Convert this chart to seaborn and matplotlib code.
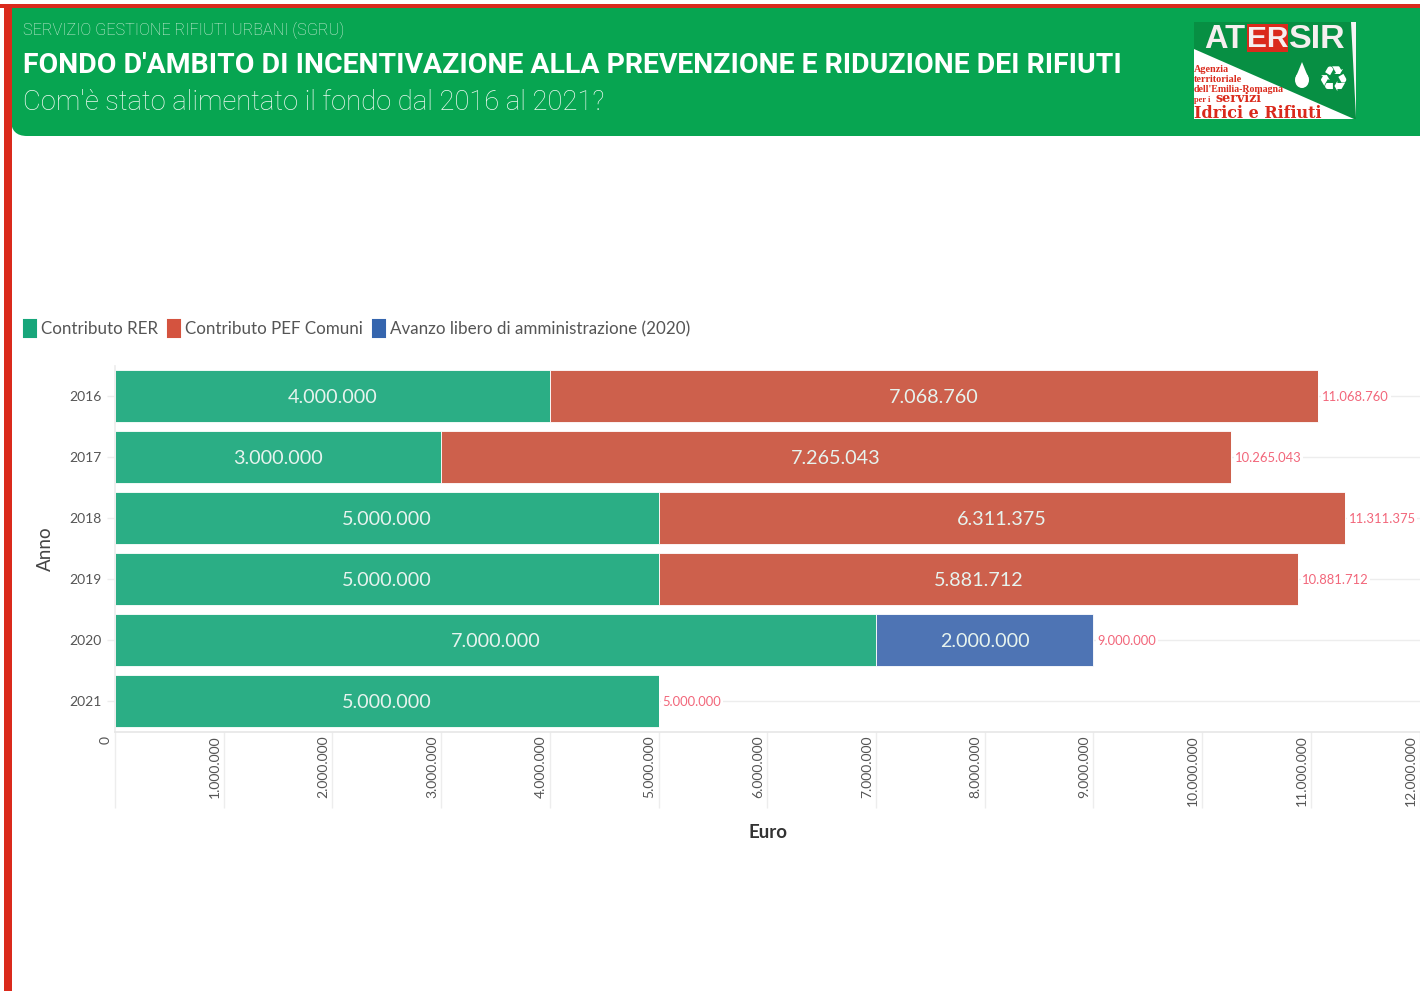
import matplotlib
matplotlib.use("Agg")
import matplotlib.pyplot as plt
import seaborn as sns
import numpy as np
from matplotlib.patches import Rectangle, FancyBboxPatch, Polygon, Ellipse, Patch
from matplotlib.transforms import ScaledTranslation

years = ["2016", "2017", "2018", "2019", "2020", "2021"]
rer = [4000000, 3000000, 5000000, 5000000, 7000000, 5000000]
pef = [7068760, 7265043, 6311375, 5881712, 0, 0]
avanzo = [0, 0, 0, 0, 2000000, 0]
series_names = ["Contributo RER", "Contributo PEF Comuni", "Avanzo libero di amministrazione (2020)"]
bar_colors = ["#2BAE85", "#CD604C", "#4E74B4"]
legend_colors = ["#17A67A", "#D4533F", "#3565AE"]
xticks = list(range(0, 13000000, 1000000))
title_top = "SERVIZIO GESTIONE RIFIUTI URBANI (SGRU)"
title_main = "FONDO D'AMBITO DI INCENTIVAZIONE ALLA PREVENZIONE E RIDUZIONE DEI RIFIUTI"
title_sub = "Com'è stato alimentato il fondo dal 2016 al 2021?"

def dotted(v):
    return f"{int(v):,}".replace(",", ".")

sns.set_theme(style="white")
plt.rcParams["font.family"] = ["Lato", "DejaVu Sans"]
W, H = 1420, 991
fig = plt.figure(figsize=(W / 100, H / 100), dpi=100, facecolor="white")

# chart
ax = fig.add_axes([115 / W, 1 - 732 / H, (1419.5 - 115) / W, (732 - 365.5) / H])
arrays = [np.array(rer), np.array(pef), np.array(avanzo)]
lefts = [np.zeros(6), np.array(rer), np.array(rer) + np.array(pef)]
ax.set_axisbelow(True)
for vals, lf, name, col in zip(arrays, lefts, series_names, bar_colors):
    sns.barplot(x=vals, y=years, order=years, orient="h", color=col, saturation=1,
                width=0.85, left=lf, ax=ax, errorbar=None, edgecolor="white", linewidth=0.6)
for cont, vals in zip(ax.containers, arrays):
    labels = ax.bar_label(cont, labels=[dotted(v) if v > 0 else "" for v in vals], label_type="center",
                          color="#E6F3EE", fontsize=14.2)
    for t in labels:
        t.set_verticalalignment("center_baseline")
totals = arrays[0] + arrays[1] + arrays[2]
for i, t in enumerate(totals):
    ax.annotate(dotted(t), (t, i), xytext=(3, 0), textcoords="offset points", va="center_baseline", ha="left",
                fontsize=9.4, color="#F2667A",
                bbox=dict(facecolor="white", edgecolor="none", pad=1))

ax.set_xlim(0, 12000000)
ax.set_ylim(5.5, -0.5)
ax.grid(axis="y", color="#EDEDED", lw=1)
ax.grid(axis="x", visible=False)
for s in ["top", "right"]:
    ax.spines[s].set_visible(False)
ax.spines["left"].set_color("#EDEDED")
ax.spines["bottom"].set_color("#E6E6E6")
ax.spines["bottom"].set_linewidth(1.2)
ax.set_xticks(xticks)
ax.set_xticklabels([dotted(v) for v in xticks], rotation=90, fontsize=10, color="#555555", va="top", ha="center")
ax.tick_params(axis="x", length=54.7, width=1, color="#EDEDED", pad=0, bottom=True)
ax.tick_params(axis="y", length=6, width=1, color="#EDEDED", pad=3.4, labelsize=10, labelcolor="#555555", left=True)
off = ScaledTranslation(-9 / 72 * 0.72, 52 / 72, fig.dpi_scale_trans)
for lbl in ax.get_xticklabels():
    lbl.set_transform(lbl.get_transform() + off)
ax.set_xlabel("")
ax.set_ylabel("")

# overlay in pixel coordinates
ov = fig.add_axes([0, 0, 1, 1], zorder=5)
ov.set_xlim(0, W)
ov.set_ylim(H, 0)
ov.axis("off")
ov.patch.set_alpha(0)

green = "#07A551"
red = "#DA2A1C"
ov.add_patch(FancyBboxPatch((11, 8), 1500, 128, boxstyle="round,pad=0,rounding_size=16", fc=green, ec="none"))
ov.add_patch(Rectangle((11, 8), 100, 60, fc=green, ec="none"))
ov.add_patch(Rectangle((0, 3.5), W, 4.5, fc=red, ec="none"))
ov.add_patch(Rectangle((4, 3.5), 8, H, fc=red, ec="none"))

ov.text(23, 30, title_top, color="#D5EFDD", fontsize=11.7, va="center", ha="left", family="Roboto", fontweight="light")
ov.text(23, 65.5, title_main, color="white", fontsize=20.45, va="center", ha="left", family="Roboto", fontweight="bold")
ov.text(23, 103, title_sub, color="#EEF9F1", fontsize=19.7, va="center", ha="left", family="Roboto", fontweight="light")

# logo
ov.add_patch(Rectangle((1194, 22), 162, 97, fc="#078F43", ec="none"))
ov.add_patch(Polygon([(1194, 49), (1354, 119), (1194, 119)], fc="white", ec="none"))
ov.add_patch(Polygon([(1351, 22), (1356, 22), (1356, 118)], fc="#F4F4F4", ec="none"))
ov.add_patch(Rectangle((1247, 24), 41, 28, fc=red, ec="none"))
ov.text(1204, 39, "AT", color="#F6EFEF", fontsize=23.5, fontweight="bold", family="Liberation Sans", va="center", ha="left")
ov.text(1267.5, 39, "ER", color="#F6EFEF", fontsize=21.5, fontweight="bold", family="Liberation Sans", va="center", ha="center")
ov.text(1289, 39, "SIR", color="#F6EFEF", fontsize=24.5, fontweight="bold", family="Liberation Sans", va="center", ha="left")
ov.add_patch(Ellipse((1302, 80), 14, 16, fc="white", ec="none"))
ov.add_patch(Polygon([(1302, 62), (1295.5, 78), (1308.5, 78)], fc="white", ec="none"))
ov.text(1333, 81, "\u267b", color="white", fontsize=25, family="DejaVu Sans", va="center", ha="center")
for y, txt, fs in [(70, "Agenzia", 7.3), (80, "territoriale", 7.4), (90, "dell'Emilia-Romagna", 7.1)]:
    ov.text(1194, y, txt, color=red, fontsize=fs, family="Liberation Serif", fontweight="bold", va="center", ha="left")
ov.text(1194, 100, "per i", color=red, fontsize=6, family="Liberation Serif", fontweight="bold", va="center", ha="left")
ov.text(1216, 99, "servizi", color=red, fontsize=9.2, family="DejaVu Serif", fontweight="bold", va="center", ha="left")
ov.text(1194, 113, "Idrici e Rifiuti", color=red, fontsize=11.5, family="DejaVu Serif", fontweight="bold", va="center", ha="left")

# axis titles
ov.text(45, 549, "Anno", rotation=90, fontsize=13.5, color="#444444", va="center", ha="center")
ov.text(768, 832, "Euro", fontsize=13.5, fontweight="bold", color="#333333", va="center", ha="center")

# legend
handles = [Patch(facecolor=c, edgecolor=c, lw=1.5, joinstyle="round", label=n) for c, n in zip(legend_colors, series_names)]
fig.legend(handles=handles, loc="center left", bbox_to_anchor=(24 / W, 1 - 328.5 / H), ncol=3, frameon=False,
           fontsize=12.25, labelcolor="#555555", handlelength=0.72, handleheight=1.15,
           handletextpad=0.28, columnspacing=0.58, borderpad=0, borderaxespad=0)

fig.savefig("out.png", dpi=100)
